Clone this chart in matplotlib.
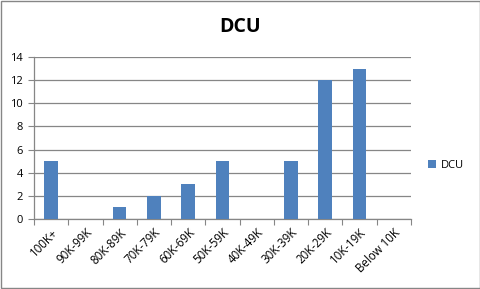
import numpy as np
import matplotlib
matplotlib.use("Agg")
import matplotlib.pyplot as plt
from matplotlib.patches import Rectangle

categories = ["100K+", "90K-99K", "80K-89K", "70K-79K", "60K-69K", "50K-59K",
              "40K-49K", "30K-39K", "20K-29K", "10K-19K", "Below 10K"]
dcu = [5, 0, 1, 2, 3, 5, 0, 5, 12, 13, 0]
yticks = [0, 2, 4, 6, 8, 10, 12, 14]

plt.rcParams["font.family"] = ["Open Sans", "DejaVu Sans"]

fig = plt.figure(figsize=(4.81, 2.89), dpi=100)
ax = fig.add_axes([0.0707, 0.242, 0.7833, 0.561])

x = np.arange(len(categories))
bar_color = "#4f81bd"
ax.bar(x, dcu, width=0.4, color=bar_color, zorder=3, label="DCU")

ax.set_xlim(-0.5, len(categories) - 0.5)
ax.set_ylim(0, 14)
ax.set_yticks(yticks)
ax.set_yticklabels([str(v) for v in yticks], fontsize=8)
ax.yaxis.grid(True, color="#868686", linewidth=0.9, zorder=0)

ax.set_xticks(np.arange(-0.5, len(categories), 1.0))
ax.set_xticklabels([])
ax.set_xticks(x, minor=True)
ax.set_xticklabels(categories, minor=True, rotation=45, ha="right",
                   rotation_mode="anchor", fontsize=8.3)
ax.tick_params(axis="x", which="minor", length=0, pad=5)
ax.tick_params(axis="x", which="major", length=4, color="#868686", direction="out")
ax.tick_params(axis="y", length=4, color="#868686", direction="out", pad=4)

for side in ["top", "right"]:
    ax.spines[side].set_visible(False)
for side in ["left", "bottom"]:
    ax.spines[side].set_color("#868686")
    ax.spines[side].set_linewidth(0.9)

fig.suptitle("DCU", x=0.5, y=0.94, fontsize=14, fontweight="bold")

ax.legend(loc="center left", bbox_to_anchor=(1.02, 0.33), frameon=False,
          fontsize=8, handlelength=0.7, handleheight=0.7, handletextpad=0.4)

fig.patches.append(Rectangle((0.002, 0.003), 0.995, 0.994, transform=fig.transFigure,
                             fill=False, edgecolor="#868686", linewidth=1.0))

fig.savefig("out.png", dpi=100)
